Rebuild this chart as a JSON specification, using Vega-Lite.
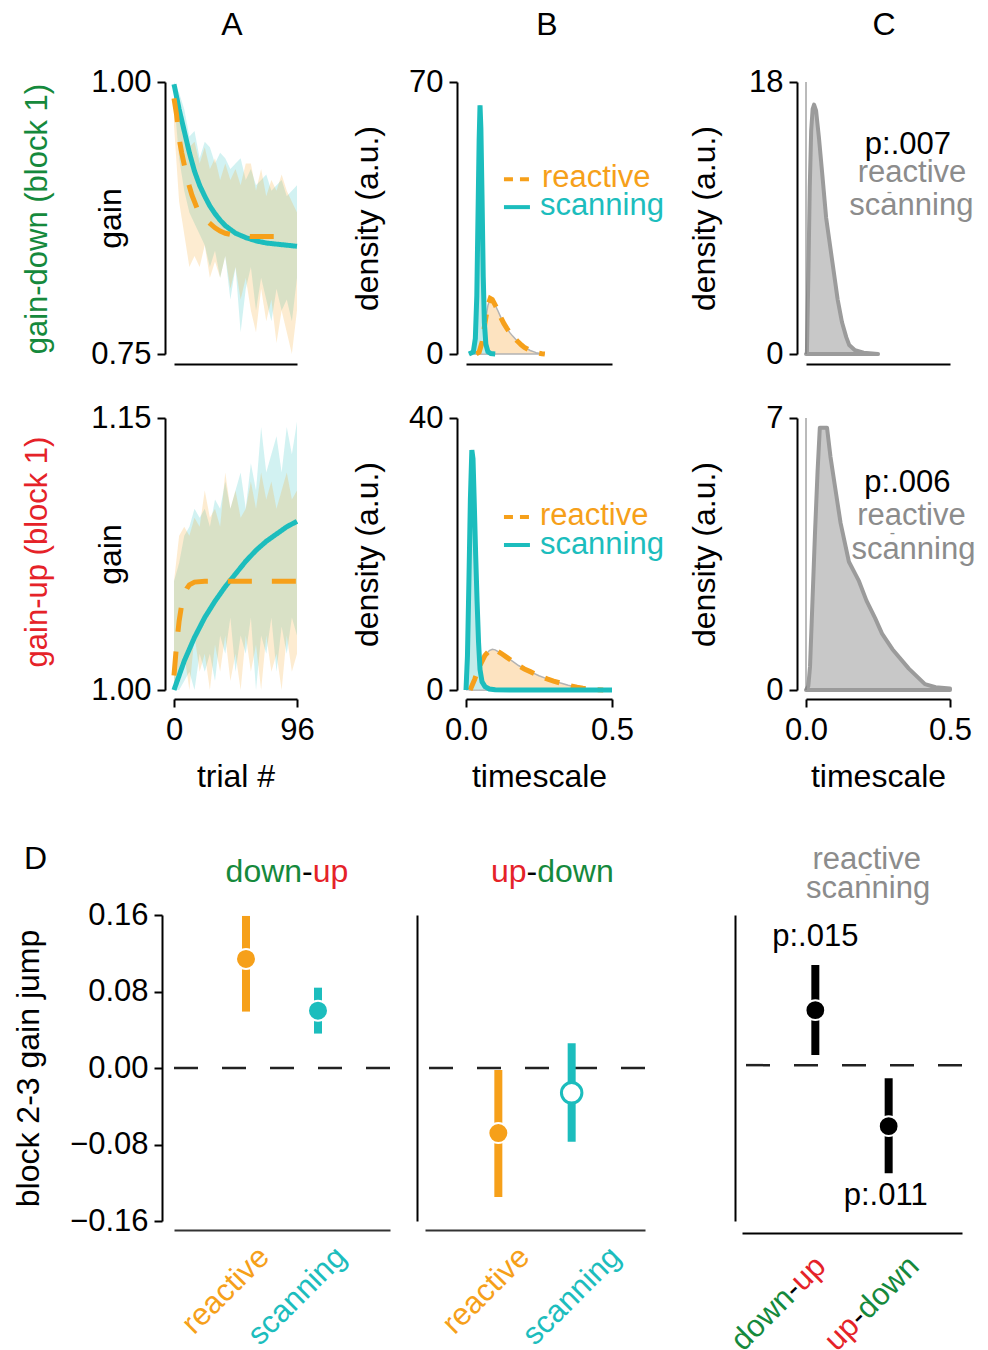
{
"$schema":"https://vega.github.io/schema/vega-lite/v6.json",
"background":"white",
"padding":{"left":12,"top":8,"right":0,"bottom":0},
"config":{"view":{"stroke":null},"font":"Liberation Sans",
"axis":{"grid":false,"domainColor":"#000","domainWidth":2,"tickColor":"#000","tickWidth":2,"tickSize":8,"labelFont":"Liberation Sans","labelFontSize":31,"labelColor":"#000","labelPadding":6,"labelFlush":false,"labelOverlap":false,"titleFont":"Liberation Sans","titleFontSize":32,"titleFontWeight":"normal","titleColor":"#000"},
"text":{"font":"Liberation Sans","fontSize":31}},
"datasets":{
"a1band":[
{"s":"scanning","t":0,"lo":0.985,"hi":1.0},{"s":"scanning","t":4,"lo":0.93,"hi":0.99},{"s":"scanning","t":8,"lo":0.9,"hi":0.975},{"s":"scanning","t":12,"lo":0.88,"hi":0.95},{"s":"scanning","t":16,"lo":0.87,"hi":0.955},{"s":"scanning","t":20,"lo":0.86,"hi":0.93},{"s":"scanning","t":24,"lo":0.85,"hi":0.945},{"s":"scanning","t":28,"lo":0.83,"hi":0.94},{"s":"scanning","t":32,"lo":0.845,"hi":0.925},{"s":"scanning","t":36,"lo":0.82,"hi":0.935},{"s":"scanning","t":40,"lo":0.84,"hi":0.93},{"s":"scanning","t":44,"lo":0.8,"hi":0.92},{"s":"scanning","t":48,"lo":0.83,"hi":0.925},{"s":"scanning","t":52,"lo":0.77,"hi":0.93},{"s":"scanning","t":56,"lo":0.81,"hi":0.91},{"s":"scanning","t":60,"lo":0.83,"hi":0.92},{"s":"scanning","t":64,"lo":0.79,"hi":0.905},{"s":"scanning","t":68,"lo":0.82,"hi":0.91},{"s":"scanning","t":72,"lo":0.8,"hi":0.915},{"s":"scanning","t":76,"lo":0.78,"hi":0.9},{"s":"scanning","t":80,"lo":0.81,"hi":0.905},{"s":"scanning","t":84,"lo":0.79,"hi":0.91},{"s":"scanning","t":88,"lo":0.8,"hi":0.895},{"s":"scanning","t":92,"lo":0.78,"hi":0.9},{"s":"scanning","t":96,"lo":0.82,"hi":0.905},
{"s":"reactive","t":0,"lo":0.96,"hi":0.995},{"s":"reactive","t":4,"lo":0.89,"hi":0.975},{"s":"reactive","t":8,"lo":0.86,"hi":0.95},{"s":"reactive","t":12,"lo":0.83,"hi":0.94},{"s":"reactive","t":16,"lo":0.84,"hi":0.945},{"s":"reactive","t":20,"lo":0.83,"hi":0.925},{"s":"reactive","t":24,"lo":0.85,"hi":0.94},{"s":"reactive","t":28,"lo":0.82,"hi":0.92},{"s":"reactive","t":32,"lo":0.835,"hi":0.93},{"s":"reactive","t":36,"lo":0.82,"hi":0.91},{"s":"reactive","t":40,"lo":0.84,"hi":0.925},{"s":"reactive","t":44,"lo":0.81,"hi":0.91},{"s":"reactive","t":48,"lo":0.83,"hi":0.92},{"s":"reactive","t":52,"lo":0.8,"hi":0.905},{"s":"reactive","t":56,"lo":0.82,"hi":0.925},{"s":"reactive","t":60,"lo":0.79,"hi":0.925},{"s":"reactive","t":64,"lo":0.77,"hi":0.9},{"s":"reactive","t":68,"lo":0.81,"hi":0.92},{"s":"reactive","t":72,"lo":0.78,"hi":0.895},{"s":"reactive","t":76,"lo":0.8,"hi":0.91},{"s":"reactive","t":80,"lo":0.76,"hi":0.9},{"s":"reactive","t":84,"lo":0.79,"hi":0.915},{"s":"reactive","t":88,"lo":0.77,"hi":0.9},{"s":"reactive","t":92,"lo":0.75,"hi":0.89},{"s":"reactive","t":96,"lo":0.79,"hi":0.88}],
"a1fit":[
{"s":"scanning","t":0,"v":0.998},{"s":"scanning","t":4,"v":0.975},{"s":"scanning","t":8,"v":0.955},{"s":"scanning","t":12,"v":0.935},{"s":"scanning","t":16,"v":0.918},{"s":"scanning","t":20,"v":0.905},{"s":"scanning","t":24,"v":0.895},{"s":"scanning","t":28,"v":0.886},{"s":"scanning","t":32,"v":0.879},{"s":"scanning","t":36,"v":0.873},{"s":"scanning","t":40,"v":0.868},{"s":"scanning","t":48,"v":0.861},{"s":"scanning","t":56,"v":0.857},{"s":"scanning","t":64,"v":0.854},{"s":"scanning","t":72,"v":0.852},{"s":"scanning","t":80,"v":0.851},{"s":"scanning","t":88,"v":0.85},{"s":"scanning","t":96,"v":0.849},
{"s":"reactive","t":0,"v":0.985},{"s":"reactive","t":2,"v":0.97},{"s":"reactive","t":4,"v":0.948},{"s":"reactive","t":6,"v":0.935},{"s":"reactive","t":8,"v":0.924},{"s":"reactive","t":10,"v":0.913},{"s":"reactive","t":12,"v":0.904},{"s":"reactive","t":14,"v":0.896},{"s":"reactive","t":16,"v":0.89},{"s":"reactive","t":18,"v":0.884},{"s":"reactive","t":20,"v":0.879},{"s":"reactive","t":24,"v":0.874},{"s":"reactive","t":28,"v":0.87},{"s":"reactive","t":32,"v":0.866},{"s":"reactive","t":36,"v":0.863},{"s":"reactive","t":40,"v":0.861},{"s":"reactive","t":48,"v":0.859},{"s":"reactive","t":60,"v":0.858},{"s":"reactive","t":70,"v":0.858},{"s":"reactive","t":80,"v":0.858}],
"a2band":[
{"s":"scanning","t":0,"lo":1.0,"hi":1.06},{"s":"scanning","t":4,"lo":1.0,"hi":1.07},{"s":"scanning","t":8,"lo":1.005,"hi":1.085},{"s":"scanning","t":12,"lo":1.01,"hi":1.09},{"s":"scanning","t":16,"lo":1.0,"hi":1.1},{"s":"scanning","t":20,"lo":1.02,"hi":1.095},{"s":"scanning","t":24,"lo":1.01,"hi":1.1},{"s":"scanning","t":28,"lo":1.02,"hi":1.09},{"s":"scanning","t":32,"lo":1.005,"hi":1.105},{"s":"scanning","t":36,"lo":1.03,"hi":1.1},{"s":"scanning","t":40,"lo":1.02,"hi":1.115},{"s":"scanning","t":44,"lo":1.04,"hi":1.1},{"s":"scanning","t":48,"lo":1.01,"hi":1.11},{"s":"scanning","t":52,"lo":1.03,"hi":1.12},{"s":"scanning","t":56,"lo":1.02,"hi":1.1},{"s":"scanning","t":60,"lo":1.04,"hi":1.125},{"s":"scanning","t":64,"lo":1.0,"hi":1.11},{"s":"scanning","t":68,"lo":1.03,"hi":1.145},{"s":"scanning","t":72,"lo":1.02,"hi":1.12},{"s":"scanning","t":76,"lo":1.04,"hi":1.13},{"s":"scanning","t":80,"lo":1.01,"hi":1.14},{"s":"scanning","t":84,"lo":1.035,"hi":1.12},{"s":"scanning","t":88,"lo":1.02,"hi":1.145},{"s":"scanning","t":92,"lo":1.04,"hi":1.13},{"s":"scanning","t":96,"lo":1.03,"hi":1.148},
{"s":"reactive","t":0,"lo":1.0,"hi":1.06},{"s":"reactive","t":4,"lo":1.005,"hi":1.085},{"s":"reactive","t":8,"lo":1.02,"hi":1.09},{"s":"reactive","t":12,"lo":1.0,"hi":1.085},{"s":"reactive","t":16,"lo":1.03,"hi":1.095},{"s":"reactive","t":20,"lo":1.01,"hi":1.09},{"s":"reactive","t":24,"lo":1.02,"hi":1.11},{"s":"reactive","t":28,"lo":1.0,"hi":1.095},{"s":"reactive","t":32,"lo":1.025,"hi":1.1},{"s":"reactive","t":36,"lo":1.01,"hi":1.09},{"s":"reactive","t":40,"lo":1.03,"hi":1.12},{"s":"reactive","t":44,"lo":1.005,"hi":1.1},{"s":"reactive","t":48,"lo":1.02,"hi":1.11},{"s":"reactive","t":52,"lo":1.0,"hi":1.095},{"s":"reactive","t":56,"lo":1.03,"hi":1.1},{"s":"reactive","t":60,"lo":1.01,"hi":1.115},{"s":"reactive","t":64,"lo":1.025,"hi":1.1},{"s":"reactive","t":68,"lo":1.0,"hi":1.12},{"s":"reactive","t":72,"lo":1.03,"hi":1.105},{"s":"reactive","t":76,"lo":1.01,"hi":1.115},{"s":"reactive","t":80,"lo":1.02,"hi":1.1},{"s":"reactive","t":84,"lo":1.0,"hi":1.11},{"s":"reactive","t":88,"lo":1.03,"hi":1.12},{"s":"reactive","t":92,"lo":1.01,"hi":1.105},{"s":"reactive","t":96,"lo":1.02,"hi":1.11}],
"a2fit":[
{"s":"scanning","t":0,"v":1.0},{"s":"scanning","t":8,"v":1.016},{"s":"scanning","t":16,"v":1.029},{"s":"scanning","t":24,"v":1.04},{"s":"scanning","t":32,"v":1.049},{"s":"scanning","t":40,"v":1.057},{"s":"scanning","t":48,"v":1.064},{"s":"scanning","t":56,"v":1.071},{"s":"scanning","t":64,"v":1.077},{"s":"scanning","t":72,"v":1.082},{"s":"scanning","t":80,"v":1.086},{"s":"scanning","t":88,"v":1.09},{"s":"scanning","t":96,"v":1.093},
{"s":"reactive","t":0,"v":1.008},{"s":"reactive","t":2,"v":1.025},{"s":"reactive","t":4,"v":1.038},{"s":"reactive","t":6,"v":1.047},{"s":"reactive","t":8,"v":1.053},{"s":"reactive","t":10,"v":1.056},{"s":"reactive","t":12,"v":1.058},{"s":"reactive","t":16,"v":1.0595},{"s":"reactive","t":24,"v":1.06},{"s":"reactive","t":40,"v":1.06},{"s":"reactive","t":60,"v":1.06},{"s":"reactive","t":80,"v":1.06},{"s":"reactive","t":96,"v":1.06}],
"b1":[
{"s":"reactive","x":0.035,"d":0},{"s":"reactive","x":0.045,"d":0.5},{"s":"reactive","x":0.055,"d":3},{"s":"reactive","x":0.065,"d":8},{"s":"reactive","x":0.075,"d":12.5},{"s":"reactive","x":0.083,"d":14.3},{"s":"reactive","x":0.09,"d":14},{"s":"reactive","x":0.1,"d":12.6},{"s":"reactive","x":0.11,"d":11},{"s":"reactive","x":0.12,"d":9.3},{"s":"reactive","x":0.13,"d":7.8},{"s":"reactive","x":0.14,"d":6.6},{"s":"reactive","x":0.15,"d":5.5},{"s":"reactive","x":0.16,"d":4.6},{"s":"reactive","x":0.17,"d":3.8},{"s":"reactive","x":0.18,"d":3.0},{"s":"reactive","x":0.19,"d":2.3},{"s":"reactive","x":0.2,"d":1.7},{"s":"reactive","x":0.22,"d":0.9},{"s":"reactive","x":0.24,"d":0.35},{"s":"reactive","x":0.26,"d":0.08},{"s":"reactive","x":0.27,"d":0},
{"s":"scanning","x":0.01,"d":0},{"s":"scanning","x":0.025,"d":0.5},{"s":"scanning","x":0.032,"d":4},{"s":"scanning","x":0.037,"d":15},{"s":"scanning","x":0.041,"d":35},{"s":"scanning","x":0.045,"d":55},{"s":"scanning","x":0.048,"d":64},{"s":"scanning","x":0.051,"d":58},{"s":"scanning","x":0.055,"d":40},{"s":"scanning","x":0.059,"d":20},{"s":"scanning","x":0.063,"d":8},{"s":"scanning","x":0.068,"d":2.5},{"s":"scanning","x":0.075,"d":0.6},{"s":"scanning","x":0.085,"d":0.1},{"s":"scanning","x":0.1,"d":0}],
"b2":[
{"s":"scanning","x":0,"d":0},{"s":"scanning","x":0.005,"d":5},{"s":"scanning","x":0.01,"d":16},{"s":"scanning","x":0.015,"d":28},{"s":"scanning","x":0.02,"d":35.3},{"s":"scanning","x":0.024,"d":34},{"s":"scanning","x":0.028,"d":28},{"s":"scanning","x":0.033,"d":20},{"s":"scanning","x":0.038,"d":13},{"s":"scanning","x":0.043,"d":7},{"s":"scanning","x":0.048,"d":3},{"s":"scanning","x":0.055,"d":1.2},{"s":"scanning","x":0.065,"d":0.5},{"s":"scanning","x":0.08,"d":0.15},{"s":"scanning","x":0.1,"d":0.03},{"s":"scanning","x":0.15,"d":0},{"s":"scanning","x":0.5,"d":0},
{"s":"reactive","x":0.014,"d":0},{"s":"reactive","x":0.02,"d":0.6},{"s":"reactive","x":0.03,"d":1.6},{"s":"reactive","x":0.04,"d":2.8},{"s":"reactive","x":0.05,"d":3.8},{"s":"reactive","x":0.065,"d":5.1},{"s":"reactive","x":0.08,"d":5.8},{"s":"reactive","x":0.09,"d":6.0},{"s":"reactive","x":0.1,"d":5.9},{"s":"reactive","x":0.12,"d":5.4},{"s":"reactive","x":0.14,"d":4.8},{"s":"reactive","x":0.16,"d":4.2},{"s":"reactive","x":0.18,"d":3.6},{"s":"reactive","x":0.2,"d":3.1},{"s":"reactive","x":0.22,"d":2.7},{"s":"reactive","x":0.25,"d":2.1},{"s":"reactive","x":0.28,"d":1.6},{"s":"reactive","x":0.3,"d":1.3},{"s":"reactive","x":0.33,"d":0.95},{"s":"reactive","x":0.35,"d":0.7},{"s":"reactive","x":0.38,"d":0.4},{"s":"reactive","x":0.4,"d":0.25},{"s":"reactive","x":0.43,"d":0.08},{"s":"reactive","x":0.45,"d":0.02},{"s":"reactive","x":0.47,"d":0}],
"c1":[{"x":0,"d":0},{"x":0.003,"d":0},{"x":0.008,"d":5},{"x":0.013,"d":11},{"x":0.018,"d":14.8},{"x":0.023,"d":16.2},{"x":0.028,"d":16.5},{"x":0.035,"d":16.1},{"x":0.045,"d":14.3},{"x":0.056,"d":12},{"x":0.07,"d":9},{"x":0.09,"d":6.3},{"x":0.11,"d":3.6},{"x":0.125,"d":2.1},{"x":0.14,"d":1.1},{"x":0.15,"d":0.6},{"x":0.17,"d":0.25},{"x":0.2,"d":0.08},{"x":0.25,"d":0}],
"c2":[{"x":0,"d":0},{"x":0.008,"d":0.1},{"x":0.014,"d":0.6},{"x":0.022,"d":2.2},{"x":0.031,"d":4},{"x":0.04,"d":5.6},{"x":0.048,"d":6.75},{"x":0.073,"d":6.75},{"x":0.085,"d":6.0},{"x":0.1,"d":5.27},{"x":0.12,"d":4.3},{"x":0.149,"d":3.3},{"x":0.17,"d":3.0},{"x":0.184,"d":2.8},{"x":0.21,"d":2.3},{"x":0.24,"d":1.85},{"x":0.264,"d":1.45},{"x":0.3,"d":1.05},{"x":0.357,"d":0.55},{"x":0.413,"d":0.15},{"x":0.45,"d":0.07},{"x":0.5,"d":0.04}],
"d1":[{"c":"reactive","m":0.114,"lo":0.059,"hi":0.159},{"c":"scanning","m":0.06,"lo":0.036,"hi":0.084}],
"d2":[{"c":"reactive","m":-0.068,"lo":-0.135,"hi":-0.002},{"c":"scanning","m":-0.026,"lo":-0.077,"hi":0.026}],
"d3":[{"c":"down-up","m":0.0575,"lo":0.0105,"hi":0.1046},{"c":"up-down","m":-0.0638,"lo":-0.113,"hi":-0.0136}],
"one":[{}],
"none":[]
},
"spacing":51,
"bounds":"full",
"vconcat":[
{"columns":5,"align":{"row":"each","column":"each"},"bounds":"flush","spacing":{"row":64,"column":0},
"concat":[
{"width":123,"height":272,"layer":[
 {"data":{"name":"a1band"},"mark":{"type":"area","opacity":0.2},"encoding":{
  "x":{"field":"t","type":"quantitative","scale":{"domain":[0,96],"nice":false,"zero":false},"axis":{"offset":10,"labels":false,"ticks":false,"title":null}},
  "y":{"field":"lo","type":"quantitative","scale":{"domain":[0.75,1.0],"nice":false,"zero":false},"axis":{"offset":9,"values":[0.75,1.0],"format":".2f","title":"gain","titlePadding":-37}},
  "y2":{"field":"hi"},
  "color":{"field":"s","type":"nominal","scale":{"domain":["reactive","scanning"],"range":["#f6a01a","#1cbdbd"]},"legend":null}}},
 {"data":{"name":"a1fit"},"mark":{"type":"line","strokeWidth":5},"encoding":{
  "x":{"field":"t","type":"quantitative"},"y":{"field":"v","type":"quantitative"},
  "color":{"field":"s","type":"nominal","scale":{"domain":["reactive","scanning"],"range":["#f6a01a","#1cbdbd"]},"legend":null},
  "strokeDash":{"field":"s","type":"nominal","scale":{"domain":["reactive","scanning"],"range":[[24,20],[1,0]]},"legend":null}}},
 {"data":{"name":"one"},"mark":{"type":"text","text":"A","fontSize":32,"align":"center","baseline":"alphabetic"},"encoding":{"x":{"datum":45.3,"type":"quantitative"},"y":{"datum":1.0432,"type":"quantitative"}}},
 {"data":{"name":"one"},"mark":{"type":"text","text":"gain-down (block 1)","fontSize":31,"angle":270,"align":"center","baseline":"middle","color":"#15893c"},"encoding":{"x":{"datum":-106,"type":"quantitative"},"y":{"datum":0.874,"type":"quantitative"}}}
]},
{"width":169,"height":272,"data":{"name":"none"},"mark":"point"},
{"width":146,"height":272,"layer":[
 {"data":{"name":"b1"},"transform":[{"filter":"datum.s=='reactive'"}],"mark":{"type":"area","fill":"#fde3c0","stroke":"#b3b3b3","strokeWidth":1.5},"encoding":{
  "x":{"field":"x","type":"quantitative","scale":{"domain":[0,0.5],"nice":false,"zero":false},"axis":{"offset":10,"labels":false,"ticks":false,"title":null}},
  "y":{"field":"d","type":"quantitative","scale":{"domain":[0,70],"nice":false},"axis":{"offset":9,"values":[0,70],"title":"density (a.u.)","titlePadding":24}}}},
 {"data":{"name":"b1"},"transform":[{"filter":"datum.s=='scanning'"}],"mark":{"type":"area","fill":"#c2ebea","stroke":"#b3b3b3","strokeWidth":1},"encoding":{"x":{"field":"x","type":"quantitative"},"y":{"field":"d","type":"quantitative"}}},
 {"data":{"name":"b1"},"transform":[{"filter":"datum.s=='reactive'"}],"mark":{"type":"line","color":"#f6a01a","strokeWidth":5,"strokeDash":[15,12]},"encoding":{"x":{"field":"x","type":"quantitative"},"y":{"field":"d","type":"quantitative"}}},
 {"data":{"name":"b1"},"transform":[{"filter":"datum.s=='scanning'"}],"mark":{"type":"line","color":"#1cbdbd","strokeWidth":5},"encoding":{"x":{"field":"x","type":"quantitative"},"y":{"field":"d","type":"quantitative"}}},
 {"data":{"name":"one"},"mark":{"type":"rule","color":"#f6a01a","strokeWidth":4,"strokeDash":[9,7]},"encoding":{"x":{"datum":0.13,"type":"quantitative"},"x2":{"datum":0.216},"y":{"datum":45.0,"type":"quantitative"}}},
 {"data":{"name":"one"},"mark":{"type":"rule","color":"#1cbdbd","strokeWidth":4},"encoding":{"x":{"datum":0.13,"type":"quantitative"},"x2":{"datum":0.219},"y":{"datum":37.8,"type":"quantitative"}}},
 {"data":{"name":"one"},"mark":{"type":"text","text":"reactive","align":"left","baseline":"alphabetic","color":"#f6a01a"},"encoding":{"x":{"datum":0.26,"type":"quantitative"},"y":{"datum":43.0,"type":"quantitative"}}},
 {"data":{"name":"one"},"mark":{"type":"text","text":"scanning","align":"left","baseline":"alphabetic","color":"#1cbdbd"},"encoding":{"x":{"datum":0.253,"type":"quantitative"},"y":{"datum":35.8,"type":"quantitative"}}},
 {"data":{"name":"one"},"mark":{"type":"text","text":"B","fontSize":32,"align":"center","baseline":"alphabetic"},"encoding":{"x":{"datum":0.277,"type":"quantitative"},"y":{"datum":82.1,"type":"quantitative"}}}
]},
{"width":194,"height":272,"data":{"name":"none"},"mark":"point"},
{"width":144,"height":272,"layer":[
 {"data":{"name":"c1"},"mark":{"type":"area","fill":"#c8c8c8","stroke":"#9b9b9b","strokeWidth":4,"strokeJoin":"round"},"encoding":{
  "x":{"field":"x","type":"quantitative","scale":{"domain":[0,0.5],"nice":false,"zero":false},"axis":{"offset":10,"labels":false,"ticks":false,"title":null}},
  "y":{"field":"d","type":"quantitative","scale":{"domain":[0,18],"nice":false},"axis":{"offset":9,"values":[0,18],"title":"density (a.u.)","titlePadding":27}}}},
 {"data":{"name":"one"},"mark":{"type":"rule","color":"#777777","strokeWidth":1},"encoding":{"x":{"datum":0,"type":"quantitative"}}},
 {"data":{"name":"one"},"mark":{"type":"text","text":"p:.007","align":"center","baseline":"alphabetic","color":"#000"},"encoding":{"x":{"datum":0.354,"type":"quantitative"},"y":{"datum":13.26,"type":"quantitative"}}},
 {"data":{"name":"one"},"mark":{"type":"text","text":"reactive","align":"center","baseline":"alphabetic","color":"#8c8c8c"},"encoding":{"x":{"datum":0.368,"type":"quantitative"},"y":{"datum":11.39,"type":"quantitative"}}},
 {"data":{"name":"one"},"mark":{"type":"text","text":"-","fontSize":16,"align":"center","baseline":"middle","color":"#8c8c8c"},"encoding":{"x":{"datum":0.29,"type":"quantitative"},"y":{"datum":10.75,"type":"quantitative"}}},
 {"data":{"name":"one"},"mark":{"type":"text","text":"scanning","align":"center","baseline":"alphabetic","color":"#8c8c8c"},"encoding":{"x":{"datum":0.366,"type":"quantitative"},"y":{"datum":9.2,"type":"quantitative"}}},
 {"data":{"name":"one"},"mark":{"type":"text","text":"C","fontSize":32,"align":"center","baseline":"alphabetic"},"encoding":{"x":{"datum":0.271,"type":"quantitative"},"y":{"datum":21.11,"type":"quantitative"}}}
]},
{"width":123,"height":272,"layer":[
 {"data":{"name":"a2band"},"mark":{"type":"area","opacity":0.2},"encoding":{
  "x":{"field":"t","type":"quantitative","scale":{"domain":[0,96],"nice":false,"zero":false},"axis":{"offset":9,"values":[0,96],"title":"trial #","labelPadding":8,"titlePadding":16}},
  "y":{"field":"lo","type":"quantitative","scale":{"domain":[1.0,1.15],"nice":false,"zero":false},"axis":{"offset":9,"values":[1.0,1.15],"format":".2f","title":"gain","titlePadding":-37}},
  "y2":{"field":"hi"},
  "color":{"field":"s","type":"nominal","scale":{"domain":["reactive","scanning"],"range":["#f6a01a","#1cbdbd"]},"legend":null}}},
 {"data":{"name":"a2fit"},"mark":{"type":"line","strokeWidth":5},"encoding":{
  "x":{"field":"t","type":"quantitative"},"y":{"field":"v","type":"quantitative"},
  "color":{"field":"s","type":"nominal","scale":{"domain":["reactive","scanning"],"range":["#f6a01a","#1cbdbd"]},"legend":null},
  "strokeDash":{"field":"s","type":"nominal","scale":{"domain":["reactive","scanning"],"range":[[24,20],[1,0]]},"legend":null}}},
 {"data":{"name":"one"},"mark":{"type":"text","text":"gain-up (block 1)","fontSize":31,"angle":270,"align":"center","baseline":"middle","color":"#e52228"},"encoding":{"x":{"datum":-106,"type":"quantitative"},"y":{"datum":1.0761,"type":"quantitative"}}}
]},
{"width":169,"height":272,"data":{"name":"none"},"mark":"point"},
{"width":146,"height":272,"layer":[
 {"data":{"name":"b2"},"transform":[{"filter":"datum.s=='reactive'"}],"mark":{"type":"area","fill":"#fde3c0","stroke":"#b3b3b3","strokeWidth":1.5},"encoding":{
  "x":{"field":"x","type":"quantitative","scale":{"domain":[0,0.5],"nice":false,"zero":false},"axis":{"offset":9,"values":[0,0.5],"format":".1f","title":"timescale","labelPadding":8,"titlePadding":16}},
  "y":{"field":"d","type":"quantitative","scale":{"domain":[0,40],"nice":false},"axis":{"offset":9,"values":[0,40],"title":"density (a.u.)","titlePadding":24}}}},
 {"data":{"name":"b2"},"transform":[{"filter":"datum.s=='scanning'"}],"mark":{"type":"area","fill":"#c2ebea","stroke":"#b3b3b3","strokeWidth":1},"encoding":{"x":{"field":"x","type":"quantitative"},"y":{"field":"d","type":"quantitative"}}},
 {"data":{"name":"b2"},"transform":[{"filter":"datum.s=='reactive'"}],"mark":{"type":"line","color":"#f6a01a","strokeWidth":5,"strokeDash":[15,12]},"encoding":{"x":{"field":"x","type":"quantitative"},"y":{"field":"d","type":"quantitative"}}},
 {"data":{"name":"b2"},"transform":[{"filter":"datum.s=='scanning'"}],"mark":{"type":"line","color":"#1cbdbd","strokeWidth":5},"encoding":{"x":{"field":"x","type":"quantitative"},"y":{"field":"d","type":"quantitative"}}},
 {"data":{"name":"one"},"mark":{"type":"rule","color":"#f6a01a","strokeWidth":4,"strokeDash":[9,7]},"encoding":{"x":{"datum":0.13,"type":"quantitative"},"x2":{"datum":0.216},"y":{"datum":25.44,"type":"quantitative"}}},
 {"data":{"name":"one"},"mark":{"type":"rule","color":"#1cbdbd","strokeWidth":4},"encoding":{"x":{"datum":0.13,"type":"quantitative"},"x2":{"datum":0.219},"y":{"datum":21.32,"type":"quantitative"}}},
 {"data":{"name":"one"},"mark":{"type":"text","text":"reactive","align":"left","baseline":"alphabetic","color":"#f6a01a"},"encoding":{"x":{"datum":0.253,"type":"quantitative"},"y":{"datum":24.26,"type":"quantitative"}}},
 {"data":{"name":"one"},"mark":{"type":"text","text":"scanning","align":"left","baseline":"alphabetic","color":"#1cbdbd"},"encoding":{"x":{"datum":0.253,"type":"quantitative"},"y":{"datum":20.04,"type":"quantitative"}}}
]},
{"width":194,"height":272,"data":{"name":"none"},"mark":"point"},
{"width":144,"height":272,"layer":[
 {"data":{"name":"c2"},"mark":{"type":"area","fill":"#c8c8c8","stroke":"#9b9b9b","strokeWidth":4,"strokeJoin":"round"},"encoding":{
  "x":{"field":"x","type":"quantitative","scale":{"domain":[0,0.5],"nice":false,"zero":false},"axis":{"offset":9,"values":[0,0.5],"format":".1f","title":"timescale","labelPadding":8,"titlePadding":16}},
  "y":{"field":"d","type":"quantitative","scale":{"domain":[0,7],"nice":false},"axis":{"offset":9,"values":[0,7],"title":"density (a.u.)","titlePadding":44}}}},
 {"data":{"name":"one"},"mark":{"type":"rule","color":"#777777","strokeWidth":1},"encoding":{"x":{"datum":0,"type":"quantitative"}}},
 {"data":{"name":"one"},"mark":{"type":"text","text":"p:.006","align":"center","baseline":"alphabetic","color":"#000"},"encoding":{"x":{"datum":0.352,"type":"quantitative"},"y":{"datum":5.095,"type":"quantitative"}}},
 {"data":{"name":"one"},"mark":{"type":"text","text":"reactive","align":"center","baseline":"alphabetic","color":"#8c8c8c"},"encoding":{"x":{"datum":0.366,"type":"quantitative"},"y":{"datum":4.246,"type":"quantitative"}}},
 {"data":{"name":"one"},"mark":{"type":"text","text":"-","fontSize":16,"align":"center","baseline":"middle","color":"#8c8c8c"},"encoding":{"x":{"datum":0.3,"type":"quantitative"},"y":{"datum":4.03,"type":"quantitative"}}},
 {"data":{"name":"one"},"mark":{"type":"text","text":"scanning","align":"center","baseline":"alphabetic","color":"#8c8c8c"},"encoding":{"x":{"datum":0.373,"type":"quantitative"},"y":{"datum":3.379,"type":"quantitative"}}}
]}
]},
{"hconcat":[
{"width":216,"height":306,"layer":[
 {"data":{"name":"one"},"mark":{"type":"rule","strokeDash":[24,24],"strokeWidth":2.5,"color":"#222"},"encoding":{"y":{"datum":0,"type":"quantitative","scale":{"domain":[-0.16,0.16],"nice":false,"zero":false},"axis":{"offset":12,"values":[-0.16,-0.08,0,0.08,0.16],"format":".2f","title":"block 2-3 gain jump","titlePadding":24}}}},
 {"data":{"name":"d1"},"mark":{"type":"rule","strokeWidth":8},"encoding":{
  "x":{"field":"c","type":"nominal","scale":{"type":"point","domain":["reactive","scanning"],"padding":1},"axis":{"offset":9,"ticks":false,"tickSize":0,"domainColor":"#333","labelAngle":-45,"labelAlign":"right","labelBaseline":"middle","labelPadding":22,"labelOffset":{"condition":{"test":"datum.value==='reactive'","value":18},"value":23},"labelColor":{"condition":{"test":"datum.value==='reactive'","value":"#f6a01a"},"value":"#1cbdbd"},"title":null}},
  "y":{"field":"lo","type":"quantitative"},"y2":{"field":"hi"},
  "color":{"field":"c","type":"nominal","scale":{"domain":["reactive","scanning"],"range":["#f6a01a","#1cbdbd"]},"legend":null}}},
 {"data":{"name":"d1"},"mark":{"type":"circle","size":400,"stroke":"white","strokeWidth":2,"opacity":1},"encoding":{"x":{"field":"c","type":"nominal"},"y":{"field":"m","type":"quantitative"},"color":{"field":"c","type":"nominal","scale":{"domain":["reactive","scanning"],"range":["#f6a01a","#1cbdbd"]},"legend":null}}},
 {"data":{"name":"one"},"mark":{"type":"text","text":"D","fontSize":32,"align":"left","baseline":"alphabetic","dx":-222},"encoding":{"x":{"datum":"reactive","type":"nominal"},"y":{"datum":0.208,"type":"quantitative"}}},
 {"data":{"name":"one"},"mark":{"type":"text","text":"down","fontSize":32,"align":"left","baseline":"alphabetic","dx":-20.4,"color":"#15893c"},"encoding":{"x":{"datum":"reactive","type":"nominal"},"y":{"datum":0.1946,"type":"quantitative"}}},
 {"data":{"name":"one"},"mark":{"type":"text","text":"-","fontSize":32,"align":"left","baseline":"alphabetic","dx":56.1,"color":"#000"},"encoding":{"x":{"datum":"reactive","type":"nominal"},"y":{"datum":0.1946,"type":"quantitative"}}},
 {"data":{"name":"one"},"mark":{"type":"text","text":"up","fontSize":32,"align":"left","baseline":"alphabetic","dx":66.8,"color":"#e52228"},"encoding":{"x":{"datum":"reactive","type":"nominal"},"y":{"datum":0.1946,"type":"quantitative"}}}
]},
{"width":35,"height":306,"data":{"name":"none"},"mark":"point"},
{"width":220,"height":306,"layer":[
 {"data":{"name":"one"},"mark":{"type":"rule","strokeDash":[24,24],"strokeWidth":2.5,"color":"#222"},"encoding":{"y":{"datum":0,"type":"quantitative","scale":{"domain":[-0.16,0.16],"nice":false,"zero":false},"axis":{"offset":8,"labels":false,"ticks":false,"title":null}}}},
 {"data":{"name":"d2"},"mark":{"type":"rule","strokeWidth":8},"encoding":{
  "x":{"field":"c","type":"nominal","scale":{"type":"point","domain":["reactive","scanning"],"padding":1},"axis":{"offset":9,"ticks":false,"tickSize":0,"domainColor":"#333","labelAngle":-45,"labelAlign":"right","labelBaseline":"middle","labelPadding":22,"labelOffset":{"condition":{"test":"datum.value==='reactive'","value":26},"value":44},"labelColor":{"condition":{"test":"datum.value==='reactive'","value":"#f6a01a"},"value":"#1cbdbd"},"title":null}},
  "y":{"field":"lo","type":"quantitative"},"y2":{"field":"hi"},
  "color":{"field":"c","type":"nominal","scale":{"domain":["reactive","scanning"],"range":["#f6a01a","#1cbdbd"]},"legend":null}}},
 {"data":{"name":"d2"},"transform":[{"filter":"datum.c=='reactive'"}],"mark":{"type":"circle","size":400,"stroke":"white","strokeWidth":2,"opacity":1,"color":"#f6a01a"},"encoding":{"x":{"field":"c","type":"nominal"},"y":{"field":"m","type":"quantitative"}}},
 {"data":{"name":"d2"},"transform":[{"filter":"datum.c=='scanning'"}],"mark":{"type":"circle","size":420,"fill":"white","stroke":"#1cbdbd","strokeWidth":3,"opacity":1,"fillOpacity":1},"encoding":{"x":{"field":"c","type":"nominal"},"y":{"field":"m","type":"quantitative"}}},
 {"data":{"name":"one"},"mark":{"type":"text","text":"up","fontSize":32,"align":"left","baseline":"alphabetic","dx":-7.4,"color":"#e52228"},"encoding":{"x":{"datum":"reactive","type":"nominal"},"y":{"datum":0.1946,"type":"quantitative"}}},
 {"data":{"name":"one"},"mark":{"type":"text","text":"-","fontSize":32,"align":"left","baseline":"alphabetic","dx":28.2,"color":"#000"},"encoding":{"x":{"datum":"reactive","type":"nominal"},"y":{"datum":0.1946,"type":"quantitative"}}},
 {"data":{"name":"one"},"mark":{"type":"text","text":"down","fontSize":32,"align":"left","baseline":"alphabetic","dx":38.9,"color":"#15893c"},"encoding":{"x":{"datum":"reactive","type":"nominal"},"y":{"datum":0.1946,"type":"quantitative"}}}
]},
{"width":97,"height":306,"data":{"name":"none"},"mark":"point"},
{"width":220,"height":306,"layer":[
 {"data":{"name":"one"},"mark":{"type":"rule","strokeDash":[24,24],"strokeWidth":2.5,"color":"#222"},"encoding":{"y":{"datum":0,"type":"quantitative","scale":{"domain":[-0.163,0.157],"nice":false,"zero":false},"axis":{"offset":7,"labels":false,"ticks":false,"title":null}}}},
 {"data":{"name":"d3"},"mark":{"type":"rule","strokeWidth":8,"color":"#000"},"encoding":{
  "x":{"field":"c","type":"nominal","scale":{"type":"point","domain":["down-up","up-down"],"padding":1},"axis":{"offset":12,"labels":false,"ticks":false,"title":null}},
  "y":{"field":"lo","type":"quantitative"},"y2":{"field":"hi"}}},
 {"data":{"name":"d3"},"mark":{"type":"circle","size":390,"stroke":"white","strokeWidth":2,"opacity":1,"color":"#000"},"encoding":{"x":{"field":"c","type":"nominal"},"y":{"field":"m","type":"quantitative"}}},
 {"data":{"name":"one"},"mark":{"type":"text","text":"reactive","align":"center","baseline":"alphabetic","dx":-22,"color":"#8c8c8c"},"encoding":{"x":{"datum":"up-down","type":"nominal"},"y":{"datum":0.205,"type":"quantitative"}}},
 {"data":{"name":"one"},"mark":{"type":"text","text":"-","fontSize":16,"align":"center","baseline":"middle","dx":-21,"color":"#8c8c8c"},"encoding":{"x":{"datum":"up-down","type":"nominal"},"y":{"datum":0.2,"type":"quantitative"}}},
 {"data":{"name":"one"},"mark":{"type":"text","text":"scanning","align":"center","baseline":"alphabetic","dx":-20.5,"color":"#8c8c8c"},"encoding":{"x":{"datum":"up-down","type":"nominal"},"y":{"datum":0.1747,"type":"quantitative"}}},
 {"data":{"name":"one"},"mark":{"type":"text","text":"p:.015","align":"center","baseline":"alphabetic","color":"#000"},"encoding":{"x":{"datum":"down-up","type":"nominal"},"y":{"datum":0.1245,"type":"quantitative"}}},
 {"data":{"name":"one"},"mark":{"type":"text","text":"p:.011","align":"center","baseline":"alphabetic","dx":-3,"color":"#000"},"encoding":{"x":{"datum":"up-down","type":"nominal"},"y":{"datum":-0.146,"type":"quantitative"}}},
 {"data":{"name":"one"},"mark":{"type":"text","text":"up","angle":315,"align":"right","baseline":"alphabetic","dx":17,"color":"#e52228"},"encoding":{"x":{"datum":"down-up","type":"nominal"},"y":{"datum":-0.2249,"type":"quantitative"}}},
 {"data":{"name":"one"},"mark":{"type":"text","text":"-","angle":315,"align":"right","baseline":"alphabetic","dx":-17.5,"color":"#000"},"encoding":{"x":{"datum":"down-up","type":"nominal"},"y":{"datum":-0.2249,"type":"quantitative"}}},
 {"data":{"name":"one"},"mark":{"type":"text","text":"down","angle":315,"align":"right","baseline":"alphabetic","dx":-27.8,"color":"#15893c"},"encoding":{"x":{"datum":"down-up","type":"nominal"},"y":{"datum":-0.2249,"type":"quantitative"}}},
 {"data":{"name":"one"},"mark":{"type":"text","text":"down","angle":315,"align":"right","baseline":"alphabetic","dx":45.3,"color":"#15893c"},"encoding":{"x":{"datum":"up-down","type":"nominal"},"y":{"datum":-0.2458,"type":"quantitative"}}},
 {"data":{"name":"one"},"mark":{"type":"text","text":"-","angle":315,"align":"right","baseline":"alphabetic","dx":-28.8,"color":"#000"},"encoding":{"x":{"datum":"up-down","type":"nominal"},"y":{"datum":-0.2458,"type":"quantitative"}}},
 {"data":{"name":"one"},"mark":{"type":"text","text":"up","angle":315,"align":"right","baseline":"alphabetic","dx":-39.1,"color":"#e52228"},"encoding":{"x":{"datum":"up-down","type":"nominal"},"y":{"datum":-0.2458,"type":"quantitative"}}}
]}
],"spacing":0,"bounds":"flush"}
]
}
